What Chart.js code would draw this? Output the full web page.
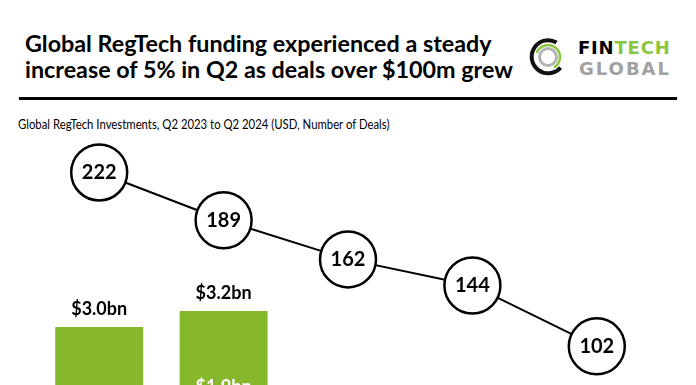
<!DOCTYPE html>
<html>
<head>
<meta charset="utf-8">
<script src="https://cdn.jsdelivr.net/npm/chart.js@4.4.1/dist/chart.umd.min.js"></script>
<style>
html, body { margin: 0; padding: 0; background: #fff; }
body { width: 696px; height: 385px; overflow: hidden; position: relative; font-family: Lato, sans-serif; color: #000; }
.title { position: absolute; left: 25px; top: 30px; font-weight: bold; font-size: 23.3px; line-height: 26px; white-space: nowrap; }
.rule { position: absolute; left: 19px; top: 97px; width: 658px; height: 3px; background: #000; }
.sub { position: absolute; left: 18px; top: 115.5px; font-size: 13.2px; white-space: nowrap; transform: scaleX(0.86); transform-origin: 0 0; }
.logo { position: absolute; left: 520px; top: 25px; }
.brand { position: absolute; font-family: "DejaVu Sans", sans-serif; font-weight: bold; font-size: 18px; white-space: nowrap; }
#wrap { position: absolute; left: 0; top: 140px; }
</style>
</head>
<body>
<div class="title">Global RegTech funding experienced a steady<br>increase of 5% in Q2 as deals over $100m grew</div>
<svg class="logo" width="60" height="60" viewBox="0 0 60 60">
  <path d="M 36.5 17.5 A 16.5 16.5 0 1 0 40.6 42.6" fill="none" stroke="#111" stroke-width="4"/>
  <path d="M 16.7 27.9 A 12 12 0 1 1 34 42.4" fill="none" stroke="#8cc63f" stroke-width="2.5"/>
  <circle cx="28" cy="32" r="8.5" fill="none" stroke="#b3b3b3" stroke-width="3"/>
</svg>
<div class="brand" style="left:578px;top:36.6px;letter-spacing:0.8px;"><span>FIN</span><span style="color:#8cc63f">TECH</span></div>
<div class="brand" style="left:579px;top:57.6px;letter-spacing:2px;color:#a0a0a0;">GLOBAL</div>
<div class="rule"></div>
<div class="sub">Global RegTech Investments, Q2 2023 to Q2 2024 (USD, Number of Deals)</div>
<div id="wrap"><canvas id="chart" width="696" height="440"></canvas></div>
<script>
// datos del gráfico
const quarters = ['Q2 2023', 'Q3 2023', 'Q4 2023', 'Q1 2024', 'Q2 2024'];
const lowerFunding = [1.0, 1.3, 0.5, 0.6, 0.6];   // USD bn, segmento inferior
const upperFunding = [2.0, 1.9, 1.3, 1.2, 1.3];   // USD bn, segmento superior
const dealCounts = [222, 189, 162, 144, 102];

const green = '#87b72a';

// etiquetas: total encima, segmento dentro, número de deals en el círculo
const valueLabels = {
    id: 'valueLabels',
    afterDatasetsDraw(chart) {
        const ctx = chart.ctx;
        ctx.save();
        ctx.textAlign = 'center';
        ctx.font = 'bold 18px Lato';
        chart.getDatasetMeta(1).data.forEach((bar, i) => {
            const total = lowerFunding[i] + upperFunding[i];
            ctx.fillStyle = '#000';
            ctx.fillText('$' + total.toFixed(1) + 'bn', bar.x, bar.y - 12);
            ctx.fillStyle = '#fff';
            ctx.fillText('$' + upperFunding[i].toFixed(1) + 'bn', bar.x, (bar.y + bar.base) / 2 + 6);
        });
        chart.getDatasetMeta(0).data.forEach((bar, i) => {
            ctx.fillStyle = '#fff';
            ctx.fillText('$' + lowerFunding[i].toFixed(1) + 'bn', bar.x, (bar.y + bar.base) / 2 + 6);
        });
        ctx.font = 'bold 20px Lato';
        ctx.fillStyle = '#000';
        chart.getDatasetMeta(2).data.forEach((pt, i) => {
            ctx.fillText(dealCounts[i], pt.x, pt.y + 7);
        });
        ctx.restore();
    }
};

new Chart(document.getElementById('chart').getContext('2d'), {
    type: 'bar',
    data: {
        labels: quarters,
        datasets: [
            {
                label: 'Lower',
                data: lowerFunding,
                backgroundColor: '#5e8a1e',
                yAxisID: 'y',
                order: 2,
                categoryPercentage: 1,
                barPercentage: 0.707
            },
            {
                label: 'Upper',
                data: upperFunding,
                backgroundColor: green,
                yAxisID: 'y',
                order: 2,
                categoryPercentage: 1,
                barPercentage: 0.707
            },
            {
                type: 'line',
                label: 'Number of Deals',
                data: dealCounts,
                yAxisID: 'y1',
                borderColor: '#000',
                borderWidth: 2,
                pointRadius: 28,
                pointHoverRadius: 28,
                pointBackgroundColor: '#fff',
                pointBorderColor: '#000',
                pointBorderWidth: 2.5,
                order: 0,
                clip: false
            }
        ]
    },
    options: {
        responsive: false,
        animation: false,
        layout: { autoPadding: false, padding: { top: 10, bottom: 13, left: 37, right: 37 } },
        plugins: { legend: { display: false }, tooltip: { enabled: false } },
        scales: {
            x: { stacked: true, display: false },
            y: { stacked: true, display: false, min: 0, max: 5.21 },
            y1: { display: false, min: -50.3, max: 237.5 }
        }
    },
    plugins: [valueLabels]
});
</script>
</body>
</html>
